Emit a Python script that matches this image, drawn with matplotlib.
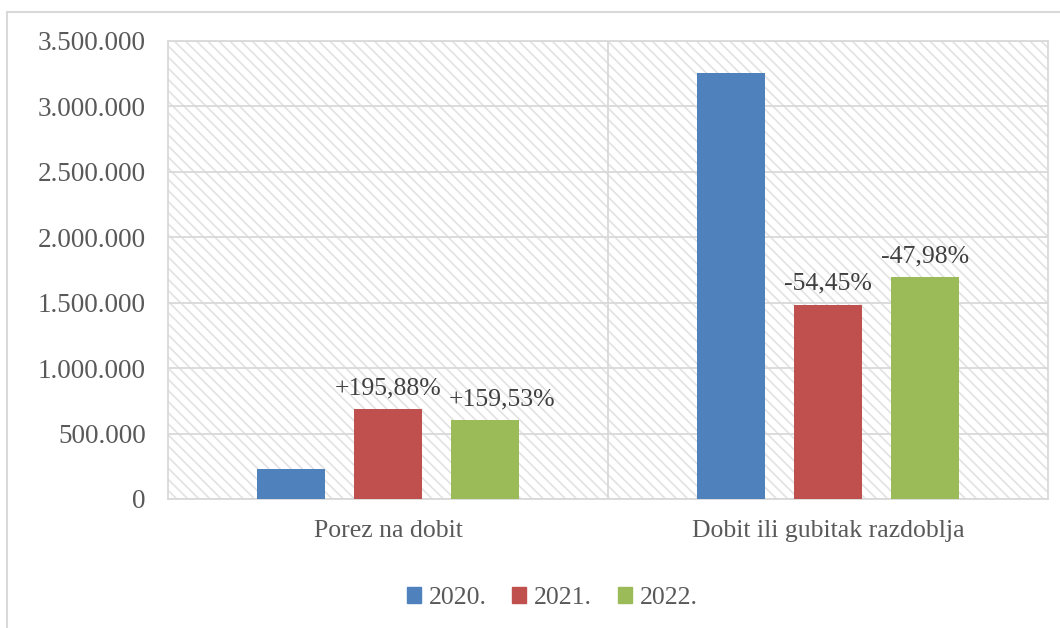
import numpy as np
import matplotlib.pyplot as plt
from matplotlib.patches import Rectangle
from matplotlib.lines import Line2D
from matplotlib.ticker import FuncFormatter

# %% data
categories = ['Porez na dobit', 'Dobit ili gubitak razdoblja']
years = ['2020.', '2021.', '2022.']
v2020 = [232500, 3257000]
v2021 = [688000, 1483600]
v2022 = [603400, 1694300]
changes_2021 = ['+195,88%', '-54,45%']
changes_2022 = ['+159,53%', '-47,98%']

colors = ['#4F81BD', '#C0504D', '#9BBB59']
txt = '#595959'
grid = '#D9D9D9'

plt.rcParams['font.family'] = ['Liberation Serif', 'DejaVu Serif']
plt.rcParams['hatch.linewidth'] = 1.2

fig = plt.figure(figsize=(10.6, 6.28), dpi=100)
ax = fig.add_axes([168/1060, 1-499/628, 880/1060, 458/628])

# hatched plot area
bg = Rectangle((0, 0), 1, 1, transform=ax.transAxes, facecolor='white',
               edgecolor='#E2E2E2', hatch='\\\\\\', linewidth=0, zorder=0)
ax.add_patch(bg)

x = np.arange(len(categories))
w = 0.155
off = 0.22
series = [v2020, v2021, v2022]
for i, vals in enumerate(series):
    ax.bar(x + (i - 1) * off, vals, w, color=colors[i], label=years[i], zorder=3)

# percentage labels
for j in range(len(categories)):
    dx = 17 if j == 0 else 0
    ax.annotate(changes_2021[j], (x[j], v2021[j]), xytext=(0, 10),
                textcoords='offset pixels', ha='center', va='bottom',
                fontsize=18.5, color='#404040', zorder=4)
    ax.annotate(changes_2022[j], (x[j] + off, v2022[j]), xytext=(dx, 10),
                textcoords='offset pixels', ha='center', va='bottom',
                fontsize=18.5, color='#404040', zorder=4)

ax.set_xlim(-0.5, 1.5)
ax.set_ylim(0, 3500000)
ax.set_yticks(np.arange(0, 3500001, 500000))
ax.yaxis.set_major_formatter(FuncFormatter(lambda v, p: f'{int(v):,}'.replace(',', '.')))
ax.set_xticks(x)
ax.set_xticklabels(categories)
ax.tick_params(axis='both', length=0, labelsize=18.5, labelcolor=txt)
ax.tick_params(axis='y', pad=16, labelsize=19.5)
ax.tick_params(axis='x', pad=15)

ax.grid(axis='y', color=grid, linewidth=1.3, zorder=1)
ax.axvline(0.5, color=grid, linewidth=1.3, zorder=1)
for s in ax.spines.values():
    s.set_color(grid)
    s.set_linewidth(1.3)
ax.set_axisbelow(True)

# legend
handles = [Rectangle((0, 0), 1, 1, color=c) for c in colors]
fig.legend(handles, years, loc='center', bbox_to_anchor=(552/1060, 1-598/628),
           ncol=3, frameon=False, fontsize=18.5, labelcolor=txt,
           handlelength=0.55, handleheight=0.55, handletextpad=0.3, columnspacing=1.0)

# outer chart frame (cropped)
fig.add_artist(Line2D([7/1060, 1], [1-12/628, 1-12/628], color=grid, lw=1.5))
fig.add_artist(Line2D([7/1060, 7/1060], [0, 1-12/628], color=grid, lw=1.5))

fig.savefig('out.png', dpi=100)
